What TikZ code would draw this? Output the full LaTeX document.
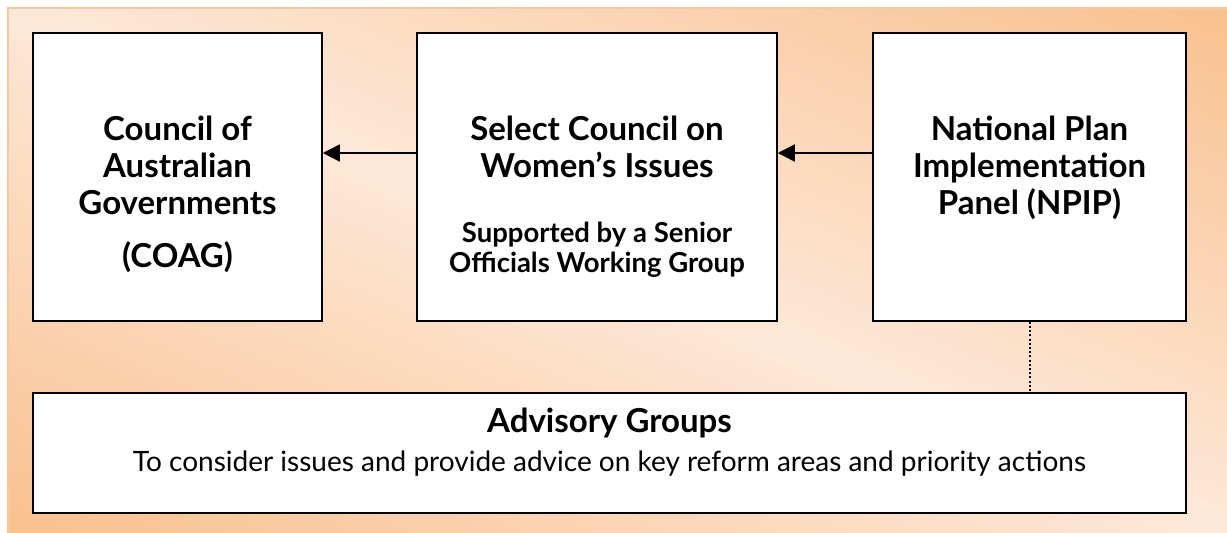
\documentclass[tikz,border=0pt]{standalone}
\usepackage{fontspec}
\setmainfont{Lato}
\usetikzlibrary{arrows.meta}
\definecolor{peach}{RGB}{249,194,146}
\definecolor{cream}{RGB}{253,232,216}
\definecolor{rim}{RGB}{250,200,160}
\tikzset{
  panel/.style={draw=black, line width=1.5pt, fill=white, inner sep=0pt},
  title/.style={font=\fontsize{33}{37}\selectfont\bfseries, align=center, inner sep=0pt, anchor=north},
  note/.style={font=\fontsize{27.5}{30}\selectfont\bfseries, align=center, inner sep=0pt, anchor=north},
  plain/.style={font=\fontsize{28}{37}\selectfont, inner sep=0pt, anchor=north},
  feeds/.style={-{Triangle[length=17pt,width=17pt]}, line width=1.5pt},
  advises/.style={line width=2pt, dash pattern=on 2pt off 2.2pt},
}
\begin{document}
\begin{tikzpicture}[x=1pt,y=-1pt]
\useasboundingbox (0,0) rectangle (1227,533);
% background, light along the falling diagonal
\begin{scope}
\clip (8,8) rectangle (1227,533);
\begin{scope}[shift={(617.5,270.5)}, rotate=-23.3]
\foreach \t in {0,6,...,498}{
  \pgfmathsetmacro\p{min(100,\t/4.6)}
  \fill[peach!\p!cream] (-800pt,\t pt) rectangle (800pt,\t pt+6.5pt);
  \fill[peach!\p!cream] (-800pt,-\t pt) rectangle (800pt,-\t pt-6.5pt);
}
\end{scope}
\end{scope}
\draw[rim, line width=2pt] (1227,8) -- (8,8) -- (8,533);
% boxes
\node[panel, minimum width=289pt, minimum height=288pt] (coag) at (177.5,177) {};
\node[panel, minimum width=360pt, minimum height=288pt] (sc) at (597,177) {};
\node[panel, minimum width=313pt, minimum height=288pt] (npip) at (1029.5,177) {};
\node[panel, minimum width=1153pt, minimum height=120pt] (adv) at (609.5,453) {};
% texts
\node[title] (coagtxt) at (177.5,116) {Council of\\Australian\\Governments\\[16pt](COAG)};
\node[title] (sctxt) at (597,116) {Select Council on\\Women’s Issues};
\node[note] (scnote) at (597,222) {Supported by a Senior\\Officials Working Group};
\node[title] (npiptxt) at (1029.5,116) {National Plan\\Implementation\\Panel (NPIP)};
\node[title] (advtxt) at (609.5,408) {Advisory Groups};
\node[plain] (advnote) at (609.5,451) {To consider issues and provide advice on key reform areas and priority actions};
% links
\draw[feeds] ([yshift=24pt]sc.west) -- ([yshift=24pt]coag.east);
\draw[feeds] ([yshift=24pt]npip.west) -- ([yshift=24pt]sc.east);
\draw[advises] (npip.south) -- (npip.south |- adv.north);
\end{tikzpicture}
\end{document}
